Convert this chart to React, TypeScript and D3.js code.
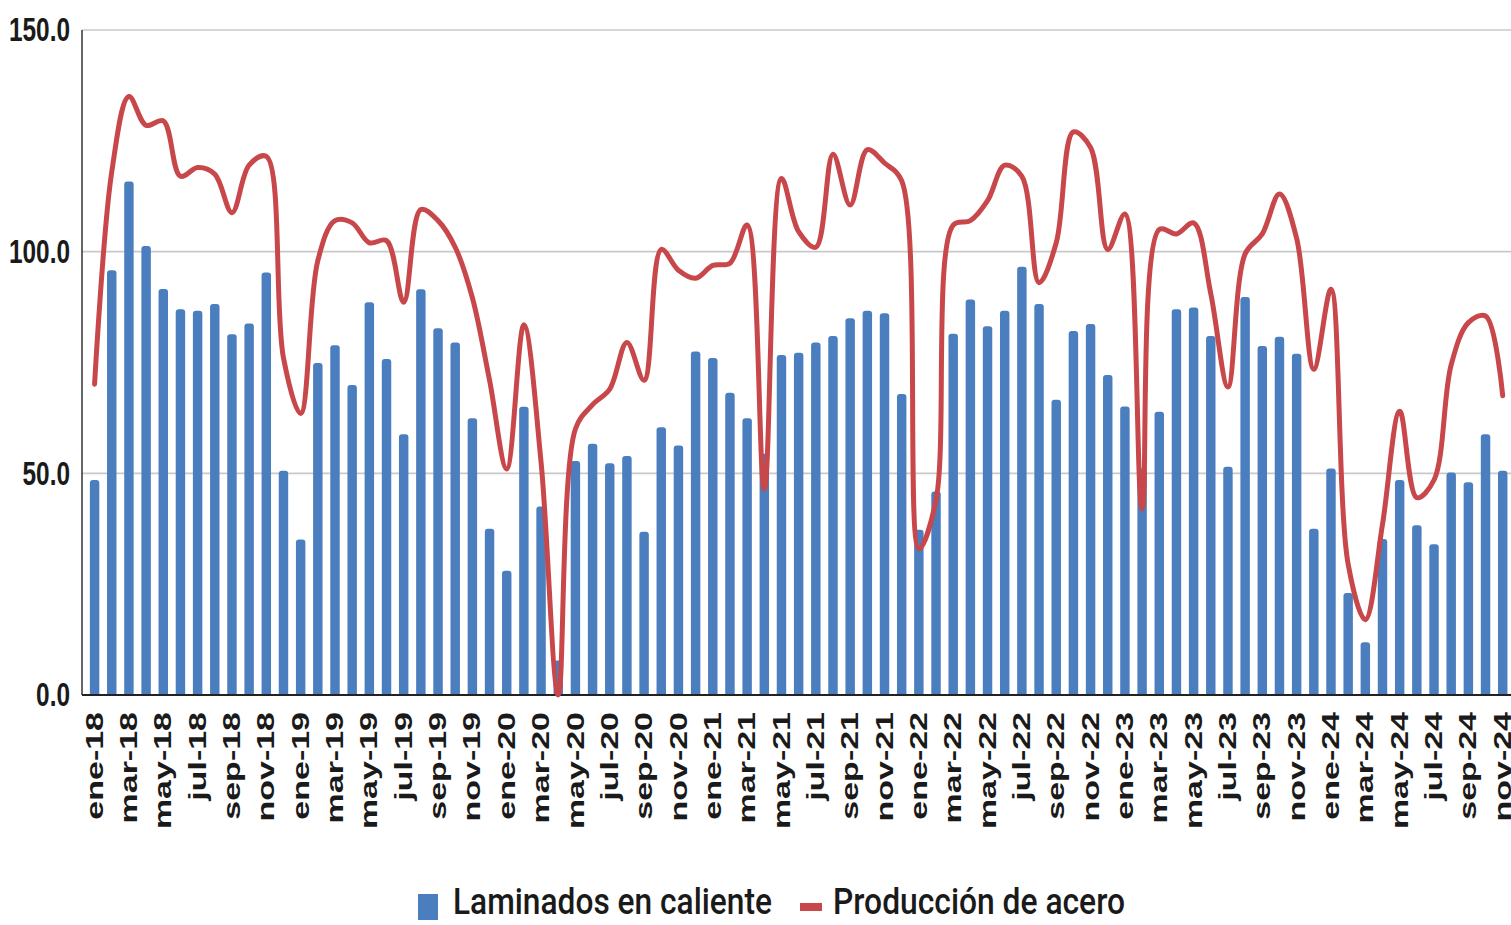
import React from "react";
import * as d3 from "d3";

const monthNames = ["ene", "feb", "mar", "abr", "may", "jun", "jul", "ago", "sep", "oct", "nov", "dic"];
const years = ["18", "19", "20", "21", "22", "23", "24"];
const categories: string[] = [];
years.forEach((y) => monthNames.forEach((m) => categories.push(`${m}-${y}`)));
categories.splice(83); // ene-18 .. nov-24

const laminados = [
  48.5, 95.8, 115.8, 101.3, 91.6, 87.0, 86.7, 88.2, 81.4, 83.8, 95.3, 50.6,
  35.1, 74.9, 78.9, 69.9, 88.6, 75.8, 58.8, 91.5, 82.7, 79.5, 62.4, 37.5,
  28.0, 65.0, 42.5, 7.8, 52.8, 56.7, 52.3, 53.9, 36.8, 60.4, 56.3, 77.5,
  76.0, 68.2, 62.4, 54.4, 76.7, 77.2, 79.5, 81.0, 85.0, 86.7, 86.1, 67.9,
  37.3, 45.9, 81.5, 89.2, 83.2, 86.7, 96.6, 88.2, 66.6, 82.1, 83.7, 72.2,
  65.1, 51.1, 63.9, 87.0, 87.4, 81.0, 51.5, 89.8, 78.7, 80.8, 77.0, 37.5,
  51.1, 23.0, 11.9, 35.2, 48.5, 38.3, 34.0, 50.2, 48.0, 58.8, 50.6,
];

const produccion = [
  70.1, 118, 135, 128.5, 129.5, 117, 119, 117.5, 108.8, 119.5, 121.5, 76,
  63.5, 98, 107, 106.5, 102, 102.5, 88.6, 109.5, 107, 101, 89.6, 71,
  51, 83.5, 52.5, 0, 60, 65.5, 69, 79.5, 71, 100.5, 95.8, 94,
  96.9, 97.4, 106, 46.5, 116.5, 104.5, 101, 122, 110.5, 123, 120, 116,
  33, 44, 106, 107, 111.5, 119.5, 117, 93, 102, 127, 123.5, 100.5,
  108.5, 42, 105, 104, 106.5, 90.5, 69.5, 99.5, 104, 113, 103, 73.5,
  91.5, 29.5, 17, 38.5, 64, 44.5, 48.5, 74.5, 84, 85.5, 67.5,
];

const yTicks = [0, 50, 100, 150];
const legendLabels = ["Laminados en caliente", "Producción de acero"];

const BLUE = "#4a7ebf";
const RED = "#c8474a";

export default function App() {
  const W = 1511;
  const H = 925;
  const x = d3
    .scaleBand<string>()
    .domain(categories)
    .range([86, 1511.3])
    .paddingInner(0.45)
    .paddingOuter(0.225);
  const y = d3.scaleLinear().domain([0, 150]).range([695, 30]);
  const bw = x.bandwidth();
  const r = 3;

  const barPath = (c: string, v: number) => {
    const x0 = x(c)!;
    const y0 = y(v);
    const yb = y(0);
    return `M${x0},${yb}V${y0 + r}Q${x0},${y0} ${x0 + r},${y0}H${x0 + bw - r}Q${x0 + bw},${y0} ${x0 + bw},${y0 + r}V${yb}Z`;
  };

  const line = d3
    .line<number>()
    .x((_, i) => x(categories[i])! + bw / 2)
    .y((d) => y(d))
    .curve(d3.curveCatmullRom.alpha(0.5));

  const labelIdx = categories.map((_, i) => i).filter((i) => i % 2 === 0);

  return (
    <svg
      width={W}
      height={H}
      style={{ position: "absolute", left: 0, top: 0, background: "#fff" }}
      fontFamily="'Liberation Sans', Arial, sans-serif"
    >
      {yTicks
        .filter((t) => t > 0)
        .map((t) => (
          <line key={t} x1={82} x2={W} y1={y(t)} y2={y(t)} stroke="#c9c9c9" strokeWidth={1.6} />
        ))}
      {categories.map((c, i) => (
        <path key={c} d={barPath(c, laminados[i])} fill={BLUE} />
      ))}
      <line x1={82} x2={W} y1={y(0)} y2={y(0)} stroke="#222" strokeWidth={2} />
      <line x1={82} x2={82} y1={y(150)} y2={y(0)} stroke="#333" strokeWidth={1.5} />
      <path d={line(produccion) || ""} fill="none" stroke={RED} strokeWidth={5} strokeLinejoin="round" strokeLinecap="round" />
      {yTicks.map((t) => (
        <g key={t} transform={`translate(70,${y(t)}) scale(0.74,1)`}>
          <text textAnchor="end" dominantBaseline="central" fontSize={33} fontWeight="bold" fill="#1a1a1a">
            {d3.format(".1f")(t)}
          </text>
        </g>
      ))}
      {labelIdx.map((i) => (
        <g key={i} transform={`translate(${x(categories[i])! + bw / 2},712) scale(0.7,1) rotate(-90)`}>
          <text textAnchor="end" dy="0.34em" fontSize={34} fontWeight="bold" fill="#1a1a1a">
            {categories[i]}
          </text>
        </g>
      ))}
      <g>
        <rect x={418} y={894} width={20} height={26} fill={BLUE} />
        <text x={453} y={914} fontFamily="Roboto, sans-serif" fontWeight={500} fontSize={36} textLength={319} lengthAdjust="spacingAndGlyphs" fill="#1a1a1a">
          {legendLabels[0]}
        </text>
        <rect x={800} y={903} width={22} height={8} fill={RED} />
        <text x={833} y={914} fontFamily="Roboto, sans-serif" fontWeight={500} fontSize={36} textLength={292} lengthAdjust="spacingAndGlyphs" fill="#1a1a1a">
          {legendLabels[1]}
        </text>
      </g>
    </svg>
  );
}
